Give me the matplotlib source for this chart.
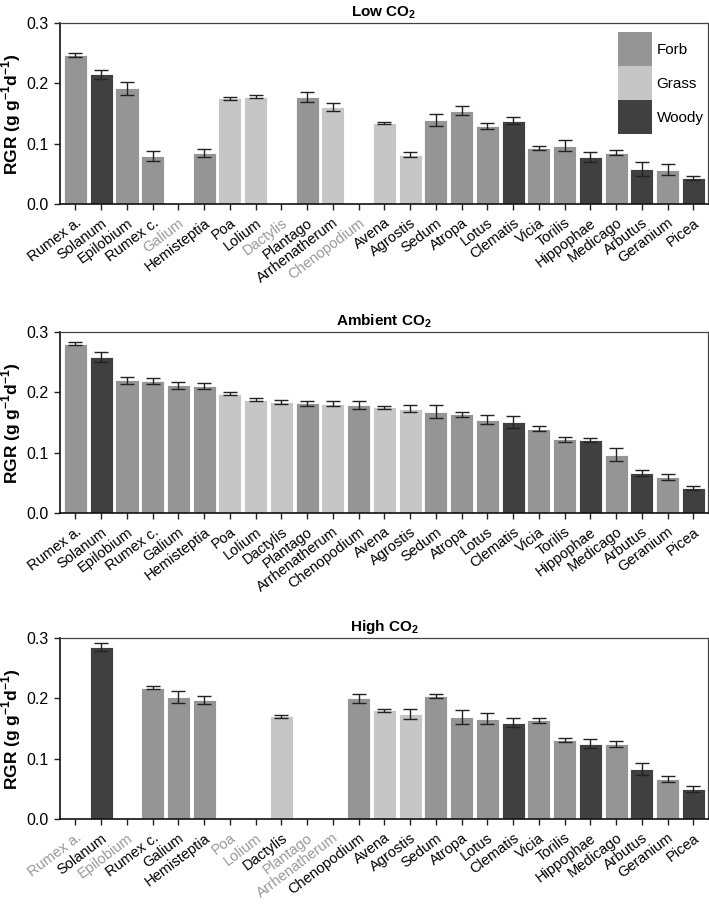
import numpy as np
import matplotlib
matplotlib.use('Agg')
import matplotlib.pyplot as plt
import matplotlib.transforms as mtransforms
from matplotlib.patches import Patch

plt.rcParams['font.family'] = ['Liberation Sans', 'DejaVu Sans']
plt.rcParams['mathtext.fontset'] = 'custom'
plt.rcParams['mathtext.rm'] = 'Liberation Sans'
plt.rcParams['mathtext.bf'] = 'Liberation Sans:bold'

species = ['Rumex a.', 'Solanum', 'Epilobium', 'Rumex c.', 'Galium', 'Hemisteptia',
           'Poa', 'Lolium', 'Dactylis', 'Plantago', 'Arrhenatherum', 'Chenopodium',
           'Avena', 'Agrostis', 'Sedum', 'Atropa', 'Lotus', 'Clematis', 'Vicia',
           'Torilis', 'Hippophae', 'Medicago', 'Arbutus', 'Geranium', 'Picea']
groups = ['Forb', 'Woody', 'Forb', 'Forb', 'Forb', 'Forb',
          'Grass', 'Grass', 'Grass', 'Forb', 'Grass', 'Forb',
          'Grass', 'Grass', 'Forb', 'Forb', 'Forb', 'Woody', 'Forb',
          'Forb', 'Woody', 'Forb', 'Woody', 'Forb', 'Woody']

nan = np.nan
low_mean = [0.247, 0.215, 0.192, 0.080, nan, 0.085,
            0.175, 0.178, nan, 0.177, 0.161, nan,
            0.134, 0.082, 0.140, 0.155, 0.129, 0.138, 0.093,
            0.097, 0.078, 0.085, 0.058, 0.057, 0.043]
low_err = [0.004, 0.007, 0.011, 0.008, nan, 0.007,
           0.003, 0.002, nan, 0.008, 0.006, nan,
           0.002, 0.004, 0.010, 0.007, 0.005, 0.006, 0.003,
           0.009, 0.009, 0.004, 0.011, 0.009, 0.003]

amb_mean = [0.281, 0.259, 0.220, 0.219, 0.212, 0.211,
            0.198, 0.188, 0.184, 0.182, 0.181, 0.179,
            0.175, 0.173, 0.168, 0.164, 0.155, 0.151, 0.140,
            0.122, 0.121, 0.097, 0.066, 0.059, 0.041]
amb_err = [0.003, 0.008, 0.006, 0.005, 0.006, 0.005,
           0.002, 0.003, 0.003, 0.004, 0.004, 0.007,
           0.002, 0.006, 0.011, 0.004, 0.007, 0.010, 0.004,
           0.004, 0.004, 0.010, 0.005, 0.005, 0.003]

high_mean = [nan, 0.285, nan, 0.218, 0.203, 0.197,
             nan, nan, 0.170, nan, nan, 0.200,
             0.180, 0.174, 0.204, 0.169, 0.166, 0.160, 0.164,
             0.131, 0.125, 0.124, 0.083, 0.067, 0.050]
high_err = [nan, 0.006, nan, 0.002, 0.010, 0.007,
            nan, nan, 0.003, nan, nan, 0.008,
            0.002, 0.008, 0.004, 0.012, 0.009, 0.008, 0.004,
            0.003, 0.007, 0.005, 0.010, 0.005, 0.005]

titles = ['Low CO$_\\mathbf{2}$', 'Ambient CO$_\\mathbf{2}$', 'High CO$_\\mathbf{2}$']
colors = {'Forb': '#959595', 'Grass': '#c6c6c6', 'Woody': '#404040'}

fig = plt.figure(figsize=(7.09, 9.08), dpi=100)
bottoms = [0.7753, 0.435, 0.098]
x = np.arange(len(species))
panels = [(low_mean, low_err), (amb_mean, amb_err), (high_mean, high_err)]
shift = mtransforms.ScaledTranslation(4 / 72, 0, fig.dpi_scale_trans)

for i, (means, errs) in enumerate(panels):
    ax = fig.add_axes([0.0846, bottoms[i], 0.914, 0.1993])
    bar_colors = [colors[g] for g in groups]
    ax.bar(x, means, width=0.9, color=bar_colors, edgecolor='white', linewidth=0.6, zorder=2)
    ax.errorbar(x, means, yerr=errs, fmt='none', ecolor='#222222', elinewidth=1.0,
                capsize=5, capthick=1.0, zorder=3)
    ax.set_xlim(-0.6, len(species) - 0.43)
    ax.set_ylim(0, 0.3)
    ax.set_yticks([0.0, 0.1, 0.2, 0.3])
    ax.set_yticklabels(['0.0', '0.1', '0.2', '0.3'], fontsize=11.5)
    ax.set_xticks(x)
    ax.set_xticklabels(species, rotation=37, ha='right', rotation_mode='anchor', fontsize=10.5)
    for lab, m in zip(ax.get_xticklabels(), means):
        lab.set_transform(lab.get_transform() + shift)
        if np.isnan(m):
            lab.set_color('#999999')
    ax.tick_params(axis='both', direction='out', length=4.5, width=1.0, color='#222222')
    ax.tick_params(axis='x', pad=4)
    for side in ['left', 'bottom']:
        ax.spines[side].set_linewidth(1.2)
        ax.spines[side].set_color('#111111')
    for side in ['top', 'right']:
        ax.spines[side].set_linewidth(0.9)
        ax.spines[side].set_color('#444444')
    ax.set_ylabel('RGR (g g$^{\\mathbf{-1}}$d$^{\\mathbf{-1}}$)', fontsize=12.5, fontweight='bold')
    ax.yaxis.set_label_coords(-0.057, 0.5)
    ax.set_title(titles[i], fontsize=11, fontweight='bold', pad=5)

    if i == 0:
        handles = [Patch(facecolor=colors[k], edgecolor='none') for k in ['Forb', 'Grass', 'Woody']]
        ax.legend(handles, ['Forb', 'Grass', 'Woody'], loc='upper right', frameon=False,
                  handlelength=2.29, handleheight=3.05, labelspacing=0, handletextpad=0.26,
                  fontsize=11, borderaxespad=0, borderpad=0, bbox_to_anchor=(0.993, 0.95))

plt.savefig('out.png', dpi=100)
